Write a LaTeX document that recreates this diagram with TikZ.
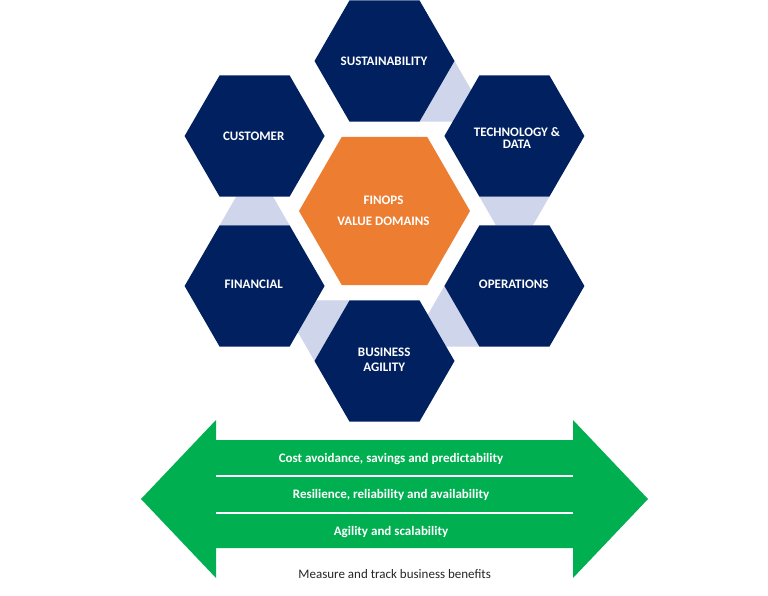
\documentclass[tikz,border=0pt]{standalone}
\usepackage{fontspec}
\setmainfont{Carlito}
\usetikzlibrary{calc}
\definecolor{navy}{HTML}{002060}
\definecolor{orng}{HTML}{ED7D31}
\definecolor{grn}{HTML}{00B050}
\definecolor{lav}{HTML}{CFD5EA}
\definecolor{dgray}{HTML}{262626}
\newcommand{\hexat}[3]{\fill[#1] ($(#2)+(#3,0)$) -- ++({-0.5*#3},{0.8660*#3}) -- ++({-#3},0) -- ++({-0.5*#3},{-0.8660*#3}) -- ++({0.5*#3},{-0.8660*#3}) -- ++({#3},0) -- cycle;}
\begin{document}
\begin{tikzpicture}[x=1pt,y=-1pt,
  hexlabel/.style={text=white,font=\fontsize{13}{12}\selectfont\bfseries,align=center,inner sep=0pt},
  bandtext/.style={text=white,font=\fontsize{13}{14}\selectfont\bfseries,anchor=mid,inner sep=0pt},
  sep/.style={draw=white,line width=1.6pt}]
\useasboundingbox[fill=white] (0,0) rectangle (768,596);
% centres
\coordinate (C) at (384.5,211);
\coordinate (sus) at (384.5,61);
\coordinate (bus) at (384.5,361);
\coordinate (cus) at (254.6,136);
\coordinate (tec) at (514.4,136);
\coordinate (fin) at (254.6,286);
\coordinate (ops) at (514.4,286);
% light connector pieces
\begin{scope}[shift={(C)}]
\fill[lav] (70,-150) -- (86.6,-121.25) -- (68.2,-89.38) -- (35,-89.38) -- cycle;
\fill[lav] (94.9,-14.38) -- (164.9,-14.38) -- (148.3,14.38) -- (111.5,14.38) -- cycle;
\fill[lav] (-148.3,-14.38) -- (-111.5,-14.38) -- (-94.9,14.38) -- (-164.9,14.38) -- cycle;
\fill[lav] (-70,150) -- (-86.6,121.25) -- (-68.2,89.38) -- (-35,89.38) -- cycle;
\fill[lav] (59.9,75) -- (43.3,103.75) -- (61.7,135.62) -- (94.9,135.62) -- cycle;
\end{scope}
% hexagons
\hexat{navy}{sus}{70}
\hexat{navy}{bus}{70}
\hexat{navy}{cus}{70}
\hexat{navy}{tec}{70}
\hexat{navy}{fin}{70}
\hexat{navy}{ops}{70}
\hexat{orng}{C}{85.5}
% labels
\node[hexlabel] (lsus) at (384,61) {SUSTAINABILITY};
\node[hexlabel] (lcus) at (253.7,136.5) {CUSTOMER};
\node[hexlabel,font=\fontsize{13}{12}\selectfont\bfseries] (ltec) at (517,138.3) {TECHNOLOGY \&\\DATA};
\node[hexlabel] (lfin) at (253.8,284.5) {FINANCIAL};
\node[hexlabel] (lops) at (513.8,284.5) {OPERATIONS};
\node[hexlabel,font=\fontsize{13}{15}\selectfont\bfseries] (lbus) at (384.2,359.8) {BUSINESS\\AGILITY};
\node[hexlabel,font=\fontsize{13}{21}\selectfont\bfseries] (lcen) at (383.5,210.5) {FINOPS\\VALUE DOMAINS};
% green double arrow
\fill[grn] (141,499) -- (216,420) -- (216,440) -- (573,440) -- (573,420) -- (648,499)
  -- (573,578) -- (573,548) -- (216,548) -- (216,578) -- cycle;
\coordinate (s1l) at (216,476); \coordinate (s1r) at (573,476);
\coordinate (s2l) at (216,513); \coordinate (s2r) at (573,513);
\draw[sep] (s1l) -- (s1r);
\draw[sep] (s2l) -- (s2r);
\node[bandtext] (b1) at (391,460) {Cost avoidance, savings and predictability};
\node[bandtext] (b2) at (391,496.5) {Resilience, reliability and availability};
\node[bandtext] (b3) at (391,533.5) {Agility and scalability};
\node[anchor=mid,inner sep=0pt,text=dgray,font=\fontsize{13}{14}\selectfont] (meas) at (394.7,576) {Measure and track business benefits};
\end{tikzpicture}
\end{document}
